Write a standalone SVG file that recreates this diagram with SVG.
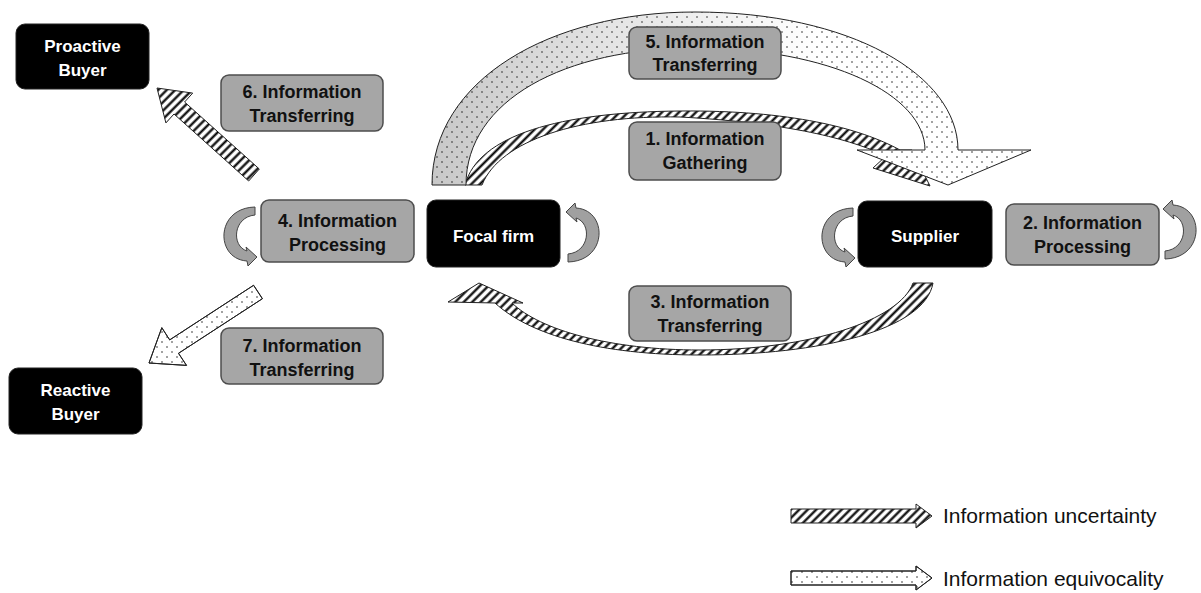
<svg xmlns="http://www.w3.org/2000/svg" width="1201" height="593" viewBox="0 0 1201 593">
<defs>
<pattern id="hatch" patternUnits="userSpaceOnUse" width="6" height="6" patternTransform="rotate(45)">
<rect width="6" height="6" fill="#fff"/>
<line x1="1.5" y1="0" x2="1.5" y2="6" stroke="#000" stroke-width="2.2"/>
</pattern>
<pattern id="dots" patternUnits="userSpaceOnUse" width="10" height="10">
<circle cx="2" cy="2" r="0.7" fill="#000"/>
<circle cx="7" cy="7" r="0.7" fill="#000"/>
</pattern>
<linearGradient id="arcgrad" gradientUnits="userSpaceOnUse" x1="432" y1="0" x2="820" y2="0">
<stop offset="0" stop-color="#c8c8c8"/>
<stop offset="0.45" stop-color="#e4e4e4"/>
<stop offset="1" stop-color="#ffffff"/>
</linearGradient>
<path id="loop" d="M0,0 L0,8 C-22,10 -24,39 -8,44 L-9,40 L2,50 L-7,59 L-8,54 C-40,52 -40,1 0,0 Z"/>
</defs>
<style>
.gbox{fill:#a6a6a6;stroke:#4d4d4d;stroke-width:1.5}
.bbox{fill:#000;stroke:#222;stroke-width:1}
.gt{font-family:"Liberation Sans",Arial,sans-serif;font-weight:bold;font-size:18px;fill:#111;text-anchor:middle}
.wt{font-family:"Liberation Sans",Arial,sans-serif;font-weight:bold;font-size:17px;fill:#fff;text-anchor:middle}
.lt{font-family:"Liberation Sans",Arial,sans-serif;font-size:21px;fill:#111}
.ha{fill:url(#hatch);stroke:#222;stroke-width:1}
.da{fill:#fff;stroke:#222;stroke-width:1}
.dov{fill:url(#dots);stroke:#222;stroke-width:1}
.lp{fill:#a0a0a0;stroke:#444;stroke-width:1}
</style>
<rect width="1201" height="593" fill="#fff"/>

<g id="connectors">
<!-- 1. Information Gathering arc (hatched) -->
<path class="ha" d="M465,185 C478,135 560,112 680,111 C790,110 860,128 900,150 L912,150 L930,186 L873,168 L886,156 C850,139 790,123 680,117 C580,115 500,140 482,185 Z"/>
<!-- 5. Information Transferring arc (dotted) -->
<path d="M432,185 C432,80 550,12 695,12 C850,12 958,75 958,150 L1031,150 L948,185 L857,150 L925,150 C925,95 830,48 695,48 C565,48 466,100 466,185 Z" fill="url(#arcgrad)" stroke="none"/>
<path class="dov" d="M432,185 C432,80 550,12 695,12 C850,12 958,75 958,150 L1031,150 L948,185 L857,150 L925,150 C925,95 830,48 695,48 C565,48 466,100 466,185 Z"/>
<!-- 3. Information Transferring arc (hatched) -->
<path class="ha" d="M933,283 C925,330 820,355 700,355 C600,355 530,335 495,303 L448,302 L479,283 L523,303 L512,303 C540,330 610,350 700,350 C810,350 900,320 913,283 Z"/>
<!-- 6. arrow to Proactive Buyer (hatched) -->
<polygon class="ha" points="259.3,169 184.6,102 192.7,93.1 157,88 165.9,122.9 174,114 248.7,181"/>
<!-- 7. arrow to Reactive Buyer (dotted) -->
<polygon class="da" points="262.4,298.7 178.5,353.3 186.5,365.4 149,363 161.8,327.7 169.7,339.9 253.6,285.3"/>
<polygon class="dov" points="262.4,298.7 178.5,353.3 186.5,365.4 149,363 161.8,327.7 169.7,339.9 253.6,285.3"/>
<!-- processing loops -->
<use href="#loop" class="lp" transform="translate(255,207)"/>
<use href="#loop" class="lp" transform="translate(568,262) rotate(180)"/>
<use href="#loop" class="lp" transform="translate(853,208)"/>
<use href="#loop" class="lp" transform="translate(1165,259) rotate(180)"/>
</g>

<g id="proactive-buyer">
<rect class="bbox" x="16" y="24" width="133" height="65" rx="9"/>
<text class="wt" x="82.5" y="52">Proactive</text>
<text class="wt" x="82.5" y="76">Buyer</text>
</g>
<g id="reactive-buyer">
<rect class="bbox" x="9" y="368" width="133" height="66" rx="9"/>
<text class="wt" x="75.5" y="396">Reactive</text>
<text class="wt" x="75.5" y="420">Buyer</text>
</g>
<g id="focal-firm">
<rect class="bbox" x="427" y="200" width="133" height="67" rx="9"/>
<text class="wt" x="493.5" y="242">Focal firm</text>
</g>
<g id="supplier">
<rect class="bbox" x="858" y="201" width="134" height="66" rx="9"/>
<text class="wt" x="925" y="242">Supplier</text>
</g>

<g id="step5">
<rect class="gbox" x="629" y="27" width="152" height="52" rx="8"/>
<text class="gt" x="705" y="48">5. Information</text>
<text class="gt" x="705" y="71">Transferring</text>
</g>
<g id="step1">
<rect class="gbox" x="629" y="122" width="152" height="58" rx="8"/>
<text class="gt" x="705" y="145">1. Information</text>
<text class="gt" x="705" y="169">Gathering</text>
</g>
<g id="step6">
<rect class="gbox" x="221" y="75" width="162" height="56" rx="8"/>
<text class="gt" x="302" y="98">6. Information</text>
<text class="gt" x="302" y="122">Transferring</text>
</g>
<g id="step4">
<rect class="gbox" x="261" y="200" width="153" height="62" rx="8"/>
<text class="gt" x="337.5" y="227">4. Information</text>
<text class="gt" x="337.5" y="251">Processing</text>
</g>
<g id="step2">
<rect class="gbox" x="1006" y="204" width="153" height="61" rx="8"/>
<text class="gt" x="1082.5" y="229">2. Information</text>
<text class="gt" x="1082.5" y="253">Processing</text>
</g>
<g id="step3">
<rect class="gbox" x="629" y="286" width="162" height="55" rx="8"/>
<text class="gt" x="710" y="308">3. Information</text>
<text class="gt" x="710" y="332">Transferring</text>
</g>
<g id="step7">
<rect class="gbox" x="221" y="328" width="162" height="56" rx="8"/>
<text class="gt" x="302" y="352">7. Information</text>
<text class="gt" x="302" y="376">Transferring</text>
</g>

<g id="legend">
<polygon class="ha" points="791,509 916,509 916,504 932,516 916,528 916,523 791,523"/>
<text class="lt" x="943" y="523">Information uncertainty</text>
<polygon class="da" points="791,571 916,571 916,566 932,578 916,590 916,585 791,585"/>
<polygon class="dov" points="791,571 916,571 916,566 932,578 916,590 916,585 791,585"/>
<text class="lt" x="943" y="586">Information equivocality</text>
</g>
</svg>
